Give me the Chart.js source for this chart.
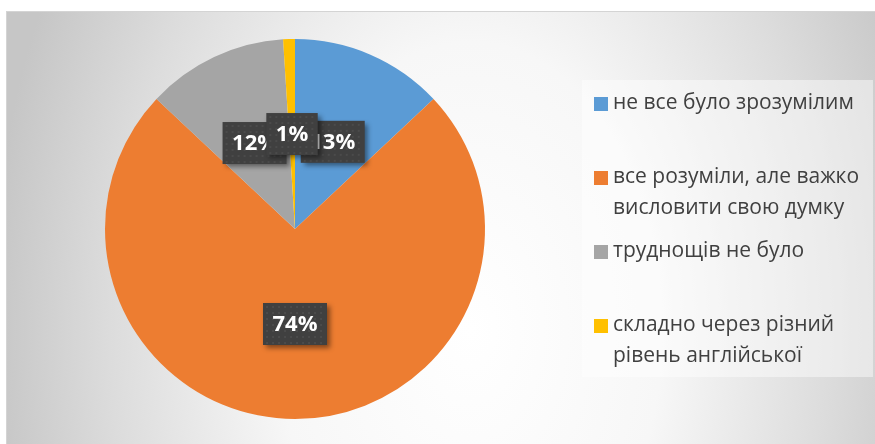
<!DOCTYPE html>
<html><head><meta charset="utf-8">
<script src="https://cdn.jsdelivr.net/npm/chart.js@4"></script>
<style>html,body{margin:0;padding:0;background:#fff}#wrap{width:875px;height:444px;position:relative}</style>
</head><body><div id="wrap"><canvas id="c" width="875" height="444"></canvas></div>
<script>
const categories = [
  ['не все було зрозумілим'],
  ['все розуміли, але важко', 'висловити свою думку'],
  ['труднощів не було'],
  ['складно через різний', 'рівень англійської']
];
const values = [13, 74, 12, 1];
const colors = ['#5B9BD5', '#ED7D31', '#A5A5A5', '#FFC000'];

const FONT = '"Open Sans", "Liberation Sans", sans-serif';

const bgPlugin = {
  id: 'bg',
  beforeDraw(chart) {
    const ctx = chart.ctx;
    ctx.save();
    ctx.fillStyle = '#ffffff';
    ctx.fillRect(0, 0, chart.width, chart.height);
    const fx = 6, fy = 11, fw = 875 - 6, fh = 444 - 11;
    const cx = 470, cy = 330, rx = 480, ry = 720;
    ctx.beginPath();
    ctx.rect(fx, fy, fw, fh);
    ctx.clip();
    ctx.translate(cx, cy);
    ctx.scale(1, ry / rx);
    const g = ctx.createRadialGradient(0, 0, 0, 0, 0, rx);
    g.addColorStop(0, '#ffffff');
    g.addColorStop(0.4, '#f7f7f7');
    g.addColorStop(0.75, '#dcdcdc');
    g.addColorStop(1, '#c6c6c6');
    ctx.fillStyle = g;
    ctx.fillRect(-cx, -cy * rx / ry - 1000, 2000, 4000);
    ctx.restore();
    ctx.save();
    ctx.strokeStyle = '#d4d4d4';
    ctx.lineWidth = 1;
    ctx.strokeRect(fx + 0.5, fy + 0.5, fw, fh);
    ctx.restore();
  }
};

const legendPlugin = {
  id: 'customLegend',
  afterDraw(chart) {
    const ctx = chart.ctx;
    ctx.save();
    ctx.fillStyle = 'rgba(255,255,255,0.45)';
    ctx.fillRect(582, 80, 291, 297);
    ctx.font = '21px ' + FONT;
    ctx.textBaseline = 'middle';
    ctx.textAlign = 'left';
    const labels = chart.data.labels;
    const cols = chart.data.datasets[0].backgroundColor;
    labels.forEach((lab, i) => {
      const y0 = 104 + i * 74;
      ctx.fillStyle = cols[i];
      ctx.fillRect(594, y0 - 7, 14, 14);
      ctx.fillStyle = '#404040';
      lab.forEach((line, j) => {
        ctx.fillText(line, 613, y0 - 1 + j * 31);
      });
    });
    ctx.restore();
  }
};

const labelPlugin = {
  id: 'pctLabels',
  afterDatasetsDraw(chart) {
    const ctx = chart.ctx;
    const meta = chart.getDatasetMeta(0);
    const data = chart.data.datasets[0].data;
    const total = data.reduce((a, b) => a + b, 0);
    ctx.save();
    ctx.font = 'bold 22px ' + FONT;
    meta.data.forEach((arc, i) => {
      const p = arc.tooltipPosition();
      const txt = Math.round(data[i] / total * 100) + '%';
      const tw = ctx.measureText(txt).width;
      const w = tw + 19, h = 42;
      const x = p.x - w / 2, y = p.y - h / 2;
      ctx.save();
      ctx.shadowColor = 'rgba(0,0,0,0.45)';
      ctx.shadowBlur = 5;
      ctx.shadowOffsetX = 3;
      ctx.shadowOffsetY = 3;
      ctx.fillStyle = '#404040';
      ctx.fillRect(x, y, w, h);
      ctx.restore();
      ctx.fillStyle = 'rgba(255,255,255,0.06)';
      for (let dx = 3; dx < w - 1; dx += 6) {
        for (let dy = 3; dy < h - 1; dy += 6) {
          ctx.fillRect(x + dx, y + dy, 2, 2);
        }
      }
      ctx.fillStyle = '#ffffff';
      ctx.textAlign = 'center';
      ctx.textBaseline = 'middle';
      ctx.fillText(txt, p.x, p.y + 1);
    });
    ctx.restore();
  }
};

new Chart(document.getElementById('c'), {
  type: 'pie',
  data: {
    labels: categories,
    datasets: [{
      data: values,
      backgroundColor: colors,
      borderWidth: 0
    }]
  },
  options: {
    responsive: false,
    animation: false,
    devicePixelRatio: 1,
    layout: { padding: { left: 105, right: 390, top: 39, bottom: 25 } },
    plugins: {
      legend: { display: false },
      tooltip: { enabled: false }
    }
  },
  plugins: [bgPlugin, legendPlugin, labelPlugin]
});
</script>
</body></html>
